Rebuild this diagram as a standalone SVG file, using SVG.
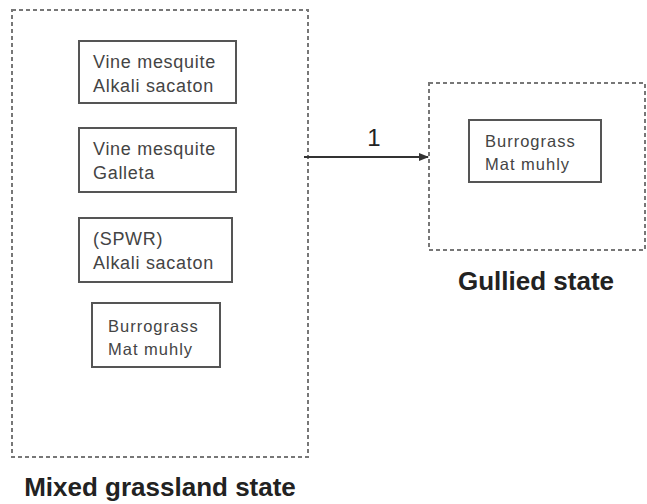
<svg xmlns="http://www.w3.org/2000/svg" width="647" height="504" viewBox="0 0 647 504">
<style>
.state{fill:none;stroke:#777;stroke-width:2;stroke-dasharray:4,3}
.box{fill:#fff;stroke:#555;stroke-width:2}
.t{font-family:"Liberation Sans",Arial,sans-serif;font-size:18px;letter-spacing:0.7px;fill:#444}
.s{font-size:16.5px;letter-spacing:1px}
.h{font-family:"Liberation Sans",Arial,sans-serif;font-size:26px;font-weight:bold;fill:#222}
.lbl{font-family:"Liberation Sans",Arial,sans-serif;font-size:24px;fill:#222}
</style>
<defs>
<marker id="ah" markerWidth="10" markerHeight="8" refX="9" refY="4" orient="auto" markerUnits="userSpaceOnUse">
<path d="M0,0 L10,4 L0,8 z" fill="#333"/>
</marker>
</defs>
<rect width="647" height="504" fill="#fff"/>
<g id="mixed">
<rect class="state" x="12" y="10" width="296" height="447"/>
<text class="h" x="160" y="496" text-anchor="middle">Mixed grassland state</text>
</g>
<g id="n1">
<rect class="box" x="79" y="41" width="157" height="62"/>
<text class="t" x="93" y="68">Vine mesquite</text>
<text class="t" x="93" y="92">Alkali sacaton</text>
</g>
<g id="n2">
<rect class="box" x="79" y="128" width="157" height="64"/>
<text class="t" x="93" y="155">Vine mesquite</text>
<text class="t" x="93" y="179">Galleta</text>
</g>
<g id="n3">
<rect class="box" x="79" y="218" width="153" height="64"/>
<text class="t" x="93" y="245">(SPWR)</text>
<text class="t" x="93" y="269">Alkali sacaton</text>
</g>
<g id="n4">
<rect class="box" x="92" y="303" width="128" height="64"/>
<text class="t s" x="108" y="332">Burrograss</text>
<text class="t s" x="108" y="355">Mat muhly</text>
</g>
<g id="gullied">
<rect class="state" x="429" y="83" width="216" height="167"/>
<text class="h" x="536" y="290" text-anchor="middle">Gullied state</text>
</g>
<g id="n5">
<rect class="box" x="469" y="120" width="132" height="62"/>
<text class="t s" x="485" y="147">Burrograss</text>
<text class="t s" x="485" y="170">Mat muhly</text>
</g>
<g id="connectors">
<line x1="304" y1="157" x2="428" y2="157" stroke="#333" stroke-width="2" marker-end="url(#ah)"/>
<text class="lbl" x="374" y="146" text-anchor="middle">1</text>
</g>
</svg>
